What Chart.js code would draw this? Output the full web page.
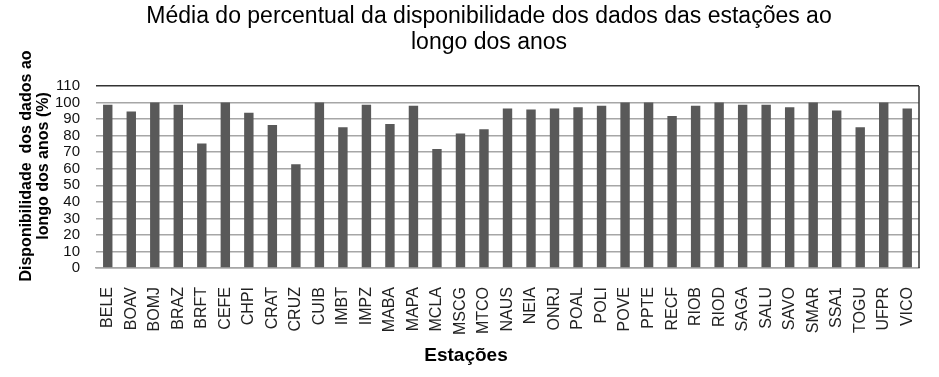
<!DOCTYPE html>
<html lang="pt">
<head>
<meta charset="UTF-8">
<title>Disponibilidade dos dados das estações</title>
<script src="https://cdn.jsdelivr.net/npm/chart.js"></script>
<style>
  html, body { margin: 0; padding: 0; background: #ffffff; }
  #wrap { width: 939px; height: 377px; }
</style>
</head>
<body>
<div id="wrap"><canvas id="chart" width="939" height="377"></canvas></div>
<script>
// estações e média da disponibilidade (%)
const stations = ['BELE', 'BOAV', 'BOMJ', 'BRAZ', 'BRFT', 'CEFE', 'CHPI', 'CRAT', 'CRUZ', 'CUIB',
  'IMBT', 'IMPZ', 'MABA', 'MAPA', 'MCLA', 'MSCG', 'MTCO', 'NAUS', 'NEIA', 'ONRJ',
  'POAL', 'POLI', 'POVE', 'PPTE', 'RECF', 'RIOB', 'RIOD', 'SAGA', 'SALU', 'SAVO',
  'SMAR', 'SSA1', 'TOGU', 'UFPR', 'VICO'];
const availability = [98.6, 94.6, 100, 98.6, 75.3, 100, 93.8, 86.5, 62.7, 100,
  85.1, 98.6, 87.1, 98, 71.9, 81.3, 83.9, 96.4, 95.8, 96.4,
  97.2, 98, 100, 100, 91.8, 98, 100, 98.6, 98.6, 97.2,
  100, 95.2, 85.1, 100, 96.4];
const yMin = 0;
const yMax = 110;
const yStep = 10;
const titleLines = ['Média do percentual da disponibilidade dos dados das estações ao', 'longo dos anos'];
const xTitle = 'Estações';
const yTitle = ['Disponibilidade  dos dados ao', 'longo dos anos (%)'];

const FONT = '"Liberation Sans", Arial, sans-serif';

// títulos desenhados à mão (posição livre), + borda direita
const extraText = {
  id: 'extraText',
  afterDraw(chart) {
    const { ctx, chartArea } = chart;
    ctx.save();
    ctx.strokeStyle = '#333333';
    ctx.lineWidth = 1.5;
    ctx.beginPath();
    ctx.moveTo(chartArea.right, chartArea.top);
    ctx.lineTo(chartArea.right, chartArea.bottom);
    ctx.stroke();

    ctx.fillStyle = '#000000';
    ctx.textAlign = 'center';
    ctx.textBaseline = 'middle';
    ctx.font = '23px ' + FONT;
    ctx.fillText(titleLines[0], 489, 17);
    ctx.fillText(titleLines[1], 489, 43);
    ctx.font = 'bold 19px ' + FONT;
    ctx.fillText(xTitle, 466, 356);

    ctx.font = 'bold 16px ' + FONT;
    yTitle.forEach((line, i) => {
      ctx.save();
      ctx.translate(27 + i * 17, 166);
      ctx.rotate(-Math.PI / 2);
      ctx.fillText(line, 0, 0);
      ctx.restore();
    });
    ctx.restore();
  }
};

const ctx = document.getElementById('chart').getContext('2d');
new Chart(ctx, {
  type: 'bar',
  data: {
    labels: stations,
    datasets: [{
      data: availability,
      backgroundColor: '#595959',
      borderWidth: 0,
      barPercentage: 0.4,
      categoryPercentage: 1.0
    }]
  },
  options: {
    responsive: false,
    animation: false,
    layout: { padding: { top: 86, right: 20, left: 0, bottom: 0 } },
    plugins: {
      legend: { display: false },
      title: { display: false },
      tooltip: { enabled: false }
    },
    scales: {
      x: {
        afterFit: (s) => { s.height = 109; },
        grid: { display: false },
        border: { color: '#a6a6a6', width: 1.5 },
        ticks: {
          autoSkip: false,
          maxRotation: 90,
          minRotation: 90,
          padding: 11,
          color: '#222222',
          font: { family: FONT, size: 16 }
        }
      },
      y: {
        min: yMin,
        max: yMax,
        afterFit: (s) => { s.width = 96; },
        border: { display: false },
        grid: {
          drawTicks: false,
          lineWidth: 1.5,
          color: (c) => (c.tick && c.tick.value === yMax ? '#333333' : '#a6a6a6')
        },
        ticks: {
          stepSize: yStep,
          autoSkip: false,
          padding: 16,
          color: '#111111',
          font: { family: FONT, size: 15, lineHeight: 1 }
        }
      }
    }
  },
  plugins: [extraText]
});
</script>
</body>
</html>
